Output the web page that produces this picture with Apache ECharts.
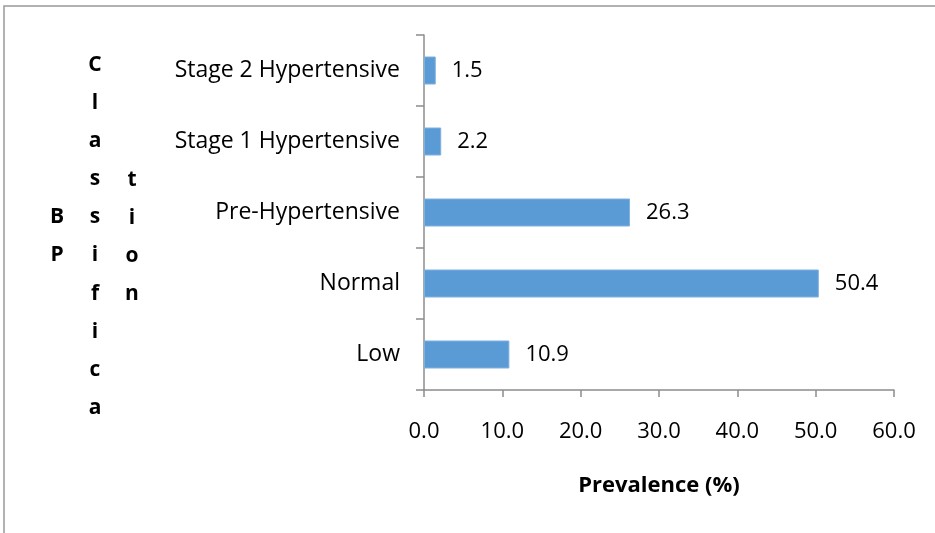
<!DOCTYPE html>
<html>
<head>
<meta charset="utf-8">
<script src="https://cdn.jsdelivr.net/npm/echarts@6/dist/echarts.min.js"></script>
<style>
  html, body { margin: 0; padding: 0; background: #fff; }
  #chart { width: 935px; height: 533px; }
</style>
</head>
<body>
<div id="chart"></div>
<script>
// BP classification categories (bottom to top on the axis)
const categories = ['Low', 'Normal', 'Pre-Hypertensive', 'Stage 1 Hypertensive', 'Stage 2 Hypertensive'];
// Prevalence in percent for each category
const prevalence = [10.9, 50.4, 26.3, 2.2, 1.5];
// Value axis range and step
const axisMin = 0;
const axisMax = 60;
const axisStep = 10;

const FONT = '"Open Sans", "Noto Sans", sans-serif';
const AXIS_GRAY = '#8c8c8c';
const LABEL_SIZE = 22;

// Axis title laid out letter by letter in three columns
const titleColumns = [
  { x: 57, letters: ['B', 'P'], top: 217 },
  { x: 95, letters: ['C', 'l', 'a', 's', 's', 'i', 'f', 'i', 'c', 'a'], top: 65 },
  { x: 132, letters: ['t', 'i', 'o', 'n'], top: 180 }
];
const letterStep = 38.1;
const titleGraphics = [];
titleColumns.forEach(col => {
  col.letters.forEach((ch, i) => {
    titleGraphics.push({
      type: 'text',
      x: col.x,
      y: col.top + i * letterStep,
      style: {
        text: ch,
        font: 'bold 21px ' + FONT,
        fill: '#000',
        align: 'center',
        verticalAlign: 'middle'
      }
    });
  });
});

// Thin frame along the left and top edges
titleGraphics.push({
  type: 'polyline',
  shape: { points: [[4, 533], [4, 6], [935, 6]] },
  style: { stroke: '#999', lineWidth: 1.5, fill: null }
});

const chart = echarts.init(document.getElementById('chart'), null, { renderer: 'canvas' });
chart.setOption({
  animation: false,
  backgroundColor: '#fff',
  textStyle: { fontFamily: FONT },
  grid: { left: 424, right: 41, top: 35, bottom: 143, containLabel: false },
  xAxis: {
    type: 'value',
    min: axisMin,
    max: axisMax,
    interval: axisStep,
    name: 'Prevalence (%)',
    nameLocation: 'middle',
    nameGap: 85,
    nameTextStyle: { fontFamily: FONT, fontSize: LABEL_SIZE, fontWeight: 'bold', color: '#000' },
    axisLine: { show: true, lineStyle: { color: AXIS_GRAY, width: 1.5 } },
    axisTick: { show: true, length: 7, lineStyle: { color: AXIS_GRAY, width: 1.5 } },
    axisLabel: {
      margin: 31,
      fontFamily: FONT,
      fontSize: LABEL_SIZE,
      color: '#000',
      formatter: v => v.toFixed(1)
    },
    splitLine: { show: false }
  },
  yAxis: {
    type: 'category',
    data: categories,
    axisLine: { show: true, lineStyle: { color: AXIS_GRAY, width: 1.5 } },
    axisTick: { show: true, length: 8, inside: false, alignWithLabel: false, lineStyle: { color: AXIS_GRAY, width: 1.5 } },
    axisLabel: { margin: 24, fontFamily: FONT, fontSize: 23, color: '#000' },
    splitLine: { show: false }
  },
  series: [{
    type: 'bar',
    data: prevalence,
    barWidth: 28,
    itemStyle: { color: '#5b9bd5', borderColor: '#7fb0de', borderWidth: 1 },
    label: {
      show: true,
      position: 'right',
      distance: 16,
      fontFamily: FONT,
      fontSize: LABEL_SIZE,
      color: '#000',
      formatter: p => p.value.toFixed(1)
    }
  }],
  graphic: titleGraphics
});
</script>
</body>
</html>
